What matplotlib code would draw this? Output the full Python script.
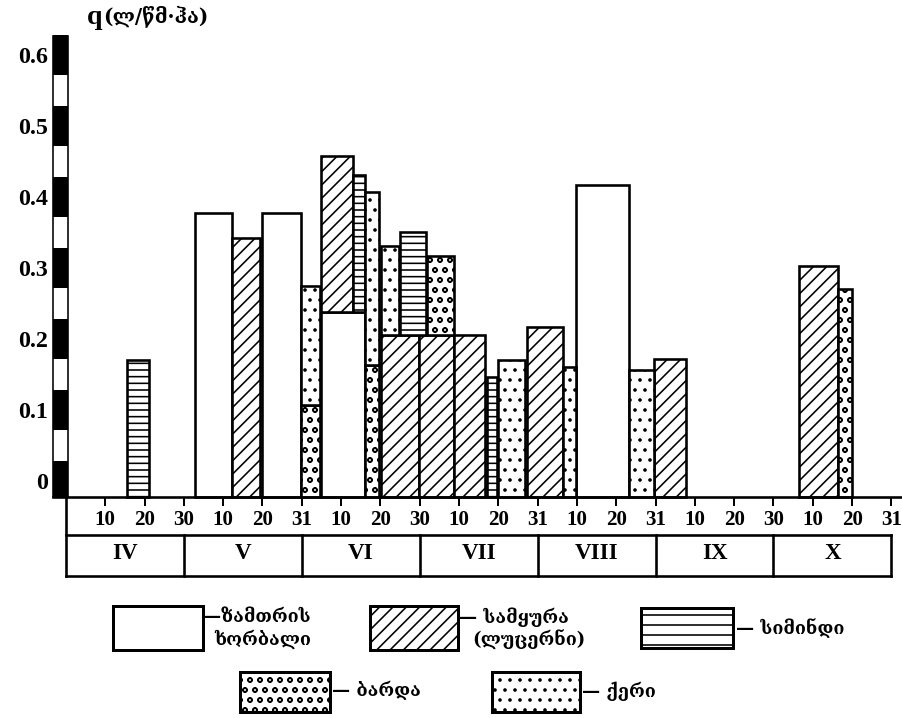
import matplotlib
matplotlib.use('Agg')
import matplotlib.pyplot as plt
from matplotlib.patches import Rectangle

# x: decades counted from 1 April, q in l/(s*ha)
wheat_start = [3.28, 4.99, 6.49, 12.98]
wheat_end = [4.22, 5.98, 7.60, 14.33]
wheat_bottom = [0, 0, 0, 0]
wheat_top = [0.40, 0.40, 0.26, 0.44]

alfalfa_start = [4.22, 6.49, 8.02, 8.98, 9.87, 11.73, 14.96, 18.65]
alfalfa_end = [4.94, 7.30, 8.98, 9.87, 10.66, 12.65, 15.78, 19.64]
alfalfa_bottom = [0, 0.26, 0, 0, 0, 0, 0, 0]
alfalfa_top = [0.365, 0.48, 0.228, 0.228, 0.228, 0.24, 0.195, 0.325]

maize_start = [1.55, 7.30, 8.50, 10.71]
maize_end = [2.11, 7.60, 9.16, 10.97]
maize_bottom = [0, 0.26, 0.228, 0]
maize_top = [0.193, 0.453, 0.373, 0.169]

peas_start = [5.98, 7.60, 9.19, 19.64]
peas_end = [6.46, 7.96, 9.87, 20.00]
peas_bottom = [0, 0, 0.228, 0]
peas_top = [0.13, 0.186, 0.339, 0.293]

barley_start = [5.98, 7.60, 8.02, 10.99, 12.65, 14.33]
barley_end = [6.46, 7.96, 8.47, 11.68, 12.98, 14.96]
barley_bottom = [0.13, 0.186, 0.228, 0, 0, 0]
barley_top = [0.297, 0.43, 0.354, 0.193, 0.183, 0.179]

months = ['IV', 'V', 'VI', 'VII', 'VIII', 'IX', 'X']
day_labels = ['10', '20', '30', '10', '20', '31', '10', '20', '30', '10', '20',
              '31', '10', '20', '31', '10', '20', '30', '10', '20', '31']
q_ticks = [0, 0.1, 0.2, 0.3, 0.4, 0.5, 0.6]
q_labels = ['0', '0.1', '0.2', '0.3', '0.4', '0.5', '0.6']

DPI = 120
K = 72 / DPI  # points per pixel

plt.rcParams['hatch.linewidth'] = 1.6 * K
serif = ['Liberation Serif', 'DejaVu Serif']
geo = ['DejaVu Serif', 'DejaVu Sans']

fig = plt.figure(figsize=(902 / DPI, 718 / DPI), dpi=DPI)
ax = fig.add_axes([53 / 902, 138 / 718, 849 / 902, 550 / 718])
ax.set_xlim(-0.33, 21.27)
ax.set_ylim(-0.117, 0.658)


def draw(start, end, bottom, top, hatch):
    w = [e - s for s, e in zip(start, end)]
    h = [t - b for b, t in zip(bottom, top)]
    ax.bar(start, h, width=w, bottom=bottom, align='edge', color='white',
           edgecolor='black', linewidth=2.6 * K, hatch=hatch, zorder=2)


draw(wheat_start, wheat_end, wheat_bottom, wheat_top, '')
draw(alfalfa_start, alfalfa_end, alfalfa_bottom, alfalfa_top, '///')
draw(maize_start, maize_end, maize_bottom, maize_top, '---')
draw(peas_start, peas_end, peas_bottom, peas_top, 'oo')
draw(barley_start, barley_end, barley_bottom, barley_top, '..')

for s in ['top', 'right', 'left']:
    ax.spines[s].set_visible(False)
ax.spines['bottom'].set_position(('data', 0))
ax.spines['bottom'].set_linewidth(2.6 * K)

ax.set_xticks(range(1, len(day_labels) + 1))
ax.set_xticklabels(day_labels, fontsize=21 * K, family=serif, weight='bold')
ax.tick_params(axis='x', length=9 * K, width=2 * K, pad=4 * K, direction='out')

# striped q axis, labels sit in the black segments
ax.set_yticks([v + 0.023 for v in q_ticks])
ax.set_yticklabels(q_labels, fontsize=24 * K, family=serif, weight='bold')
ax.tick_params(axis='y', length=0, pad=5 * K)
ax.bar(-0.14, 0.65, width=0.38, color='white', edgecolor='black',
       linewidth=1.6 * K, clip_on=False, zorder=4)
ax.bar([-0.14] * len(q_ticks), [v + 0.051 - max(v - 0.006, 0) for v in q_ticks],
       width=0.38, bottom=[max(v - 0.006, 0) for v in q_ticks],
       color='black', linewidth=0, clip_on=False, zorder=5)

# month table below the axis
row_top, row_bot = -0.0535, -0.111
edges = [3 * i for i in range(len(months) + 1)]
kw = dict(color='black', lw=2.6 * K, clip_on=False, solid_capstyle='projecting')
ax.plot([0, 0], [0, row_bot], **kw)
ax.plot([0, edges[-1]], [row_top, row_top], **kw)
ax.plot([0, edges[-1]], [row_bot, row_bot], **kw)
for e in edges[1:]:
    ax.plot([e, e], [row_top, row_bot], **kw)
for i, m in enumerate(months):
    ax.text((edges[i] + edges[i + 1]) / 2, (row_top + row_bot) / 2 + 0.002, m,
            ha='center', va='center', fontsize=23 * K, family=serif, weight='bold')

fig.text(87 / 902, 1 - 17 / 718, 'q', fontsize=28 * K,
         weight='bold', family=serif, va='center')
fig.text(103 / 902, 1 - 16 / 718, '(ლ/წმ·ჰა)', fontsize=20 * K,
         weight='bold', family=geo, va='center')

# legend drawn in pixel space
lax = fig.add_axes([0, 0, 1, 1])
lax.set_xlim(0, 902)
lax.set_ylim(718, 0)
lax.axis('off')
lax.patch.set_alpha(0)
boxes = [(113, 606, 90, 44, ''), (370, 606, 88, 44, '///'), (641, 608, 92, 40, '--'),
         (240, 672, 90, 40, 'oo'), (492, 672, 88, 40, '..')]
for x, y, w, h, hatch in boxes:
    lax.add_patch(Rectangle((x, y), w, h, facecolor='white', edgecolor='black',
                            linewidth=3 * K, hatch=hatch))
tk = dict(fontsize=18 * K, weight='bold', family=geo, va='center')
lax.text(203, 617, '—ზამთრის', **tk)
lax.text(214, 639, 'ხორბალი', **tk)
lax.text(459, 617, '— სამყურა', **tk)
lax.text(472, 640, '(ლუცერნი)', **tk)
lax.text(736, 628, '— სიმინდი', **tk)
lax.text(332, 691, '— ბარდა', **tk)
lax.text(582, 691, '— ქერი', **tk)

fig.savefig('out.png', dpi=DPI, facecolor='white')
